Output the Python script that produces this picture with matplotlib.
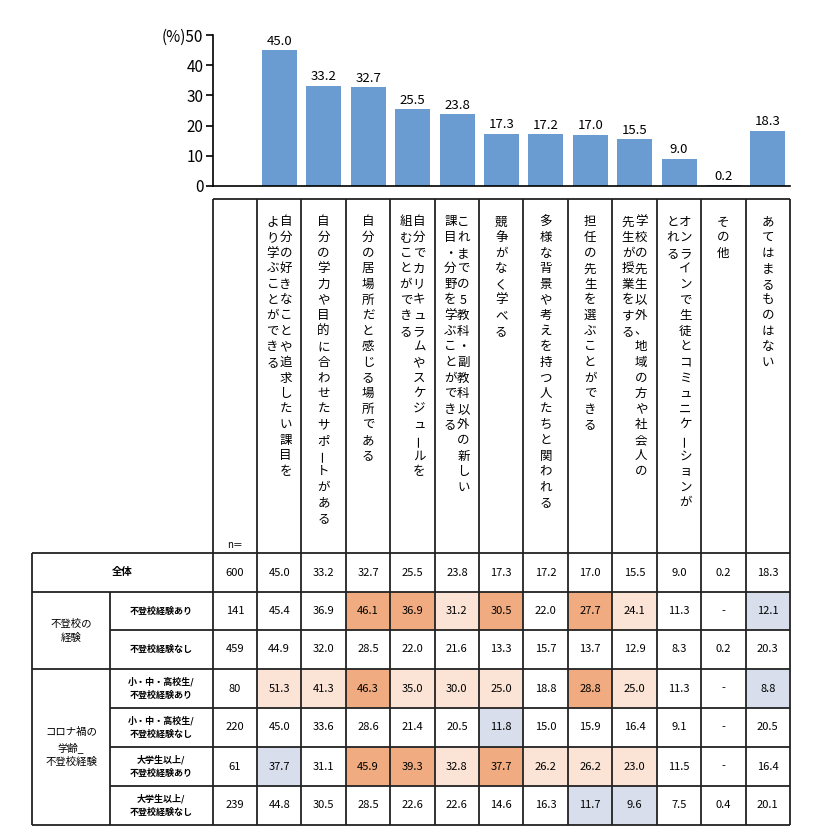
import matplotlib
matplotlib.use("Agg")
import matplotlib.pyplot as plt
from matplotlib.patches import Rectangle

plt.rcParams['font.family'] = ['Noto Sans CJK JP', 'DejaVu Sans']

labels = [
    ["自分の好きなことや追求したい課目を", "より学ぶことができる"],
    ["自分の学力や目的に合わせたサポートがある"],
    ["自分の居場所だと感じる場所である"],
    ["自分でカリキュラムやスケジュールを", "組むことができる"],
    ["これまでの5教科・副教科以外の新しい", "課目・分野を学ぶことができる"],
    ["競争がなく学べる"],
    ["多様な背景や考えを持つ人たちと関われる"],
    ["担任の先生を選ぶことができる"],
    ["学校の先生以外、地域の方や社会人の", "先生が授業をする"],
    ["オンラインで生徒とコミュニケーションが", "とれる"],
    ["その他"],
    ["あてはまるものはない"],
]
totals = [45.0, 33.2, 32.7, 25.5, 23.8, 17.3, 17.2, 17.0, 15.5, 9.0, 0.2, 18.3]
n_total = 600

groups = [("不登校の\n経験", 2), ("コロナ禍の\n学齢_\n不登校経験", 4)]
sub_labels = ["不登校経験あり", "不登校経験なし",
              "小・中・高校生/\n不登校経験あり", "小・中・高校生/\n不登校経験なし",
              "大学生以上/\n不登校経験あり", "大学生以上/\n不登校経験なし"]
sub_n = [141, 459, 80, 220, 61, 239]
rows = [
    [45.4, 36.9, 46.1, 36.9, 31.2, 30.5, 22.0, 27.7, 24.1, 11.3, None, 12.1],
    [44.9, 32.0, 28.5, 22.0, 21.6, 13.3, 15.7, 13.7, 12.9, 8.3, 0.2, 20.3],
    [51.3, 41.3, 46.3, 35.0, 30.0, 25.0, 18.8, 28.8, 25.0, 11.3, None, 8.8],
    [45.0, 33.6, 28.6, 21.4, 20.5, 11.8, 15.0, 15.9, 16.4, 9.1, None, 20.5],
    [37.7, 31.1, 45.9, 39.3, 32.8, 37.7, 26.2, 26.2, 23.0, 11.5, None, 16.4],
    [44.8, 30.5, 28.5, 22.6, 22.6, 14.6, 16.3, 11.7, 9.6, 7.5, 0.4, 20.1],
]

W, H = 823, 840
fig = plt.figure(figsize=(W/100, H/100), dpi=100)

# ---- bar chart ----
x0, x1, y0, y1 = 213, 790, 186, 35
ax = fig.add_axes([x0/W, 1-y0/H, (x1-x0)/W, (y0-y1)/H])
xs = list(range(len(totals)))
ax.bar(xs, totals, width=0.79, color='#6a9bd1')
for x, v in zip(xs, totals):
    ax.text(x, v+0.8, f"{v:.1f}", ha='center', va='bottom', fontsize=9.5,
            fontfamily='DejaVu Sans Condensed' if False else 'Noto Sans CJK JP')
ax.set_xlim(-1.5, 11.5)
ax.set_ylim(0, 50)
ax.set_yticks([0, 10, 20, 30, 40, 50])
ax.set_yticklabels(['0', '10', '20', '30', '40', '(%)50'], fontsize=11)
ax.set_xticks([])
for s in ['top', 'right']:
    ax.spines[s].set_visible(False)
ax.spines['left'].set_linewidth(1.2)
ax.spines['bottom'].set_linewidth(1.2)
ax.tick_params(axis='y', length=5, width=1.2, pad=2)
ax.patch.set_alpha(0)

# ---- table ----
tx = fig.add_axes([0, 0, 1, 1])
tx.set_xlim(0, W); tx.set_ylim(H, 0); tx.axis('off')
tx.patch.set_alpha(0)

col_edges = [257 + i*(790-257)/12 for i in range(13)]
row_edges = [553, 592, 630, 669, 708, 747, 786, 825]
lw = 1.3

def line(xa, ya, xb, yb, w=lw):
    tx.plot([xa, xb], [ya, yb], color='#222222', lw=w, solid_capstyle='butt')

# header boxes
hy0 = 199
for i in range(12):
    line(col_edges[i], hy0, col_edges[i], row_edges[0])
line(col_edges[-1], hy0, col_edges[-1], row_edges[0])
line(213, hy0, 213, row_edges[0])
line(213, hy0, 790, hy0)
tx.text(235, 545, "n＝", ha='center', va='center', fontsize=7)

# vertical labels
step = 15.6
for i, lines in enumerate(labels):
    cx = (col_edges[i] + col_edges[i+1]) / 2
    nl = len(lines)
    for j, s in enumerate(lines):
        xpos = cx + (nl-1)*6.5 - j*13
        for k, ch in enumerate(s):
            rot = 90 if ch in 'ー' else 0
            tx.text(xpos, 222 + k*step, ch, ha='center', va='center',
                    fontsize=9, rotation=rot)

def shade(v, t):
    if v is None:
        return None
    d = v - t
    if d >= 10:
        return '#f0ac80'
    if d >= 5:
        return '#fbe3d6'
    if d <= -5:
        return '#d9deec'
    return None

# total row
ytop, ybot = row_edges[0], row_edges[1]
ym = (ytop+ybot)/2
tx.text(122, ym, "全体", ha='center', va='center', fontsize=7.5, fontweight='bold')
tx.text(235, ym, str(n_total), ha='center', va='center', fontsize=8)
for i, v in enumerate(totals):
    tx.text((col_edges[i]+col_edges[i+1])/2, ym, f"{v:.1f}", ha='center', va='center', fontsize=8)

for r, (vals, nn, lab) in enumerate(zip(rows, sub_n, sub_labels)):
    ya, yb = row_edges[r+1], row_edges[r+2]
    ym = (ya+yb)/2
    for i, v in enumerate(vals):
        c = shade(v, totals[i])
        if c:
            tx.add_patch(Rectangle((col_edges[i], ya), col_edges[i+1]-col_edges[i], yb-ya,
                                   color=c, lw=0))
        tx.text((col_edges[i]+col_edges[i+1])/2, ym, '-' if v is None else f"{v:.1f}",
                ha='center', va='center', fontsize=8)
    tx.text(235, ym, str(nn), ha='center', va='center', fontsize=8)
    tx.text(161, ym, lab, ha='center', va='center', fontsize=6.5, fontweight='bold',
            linespacing=1.6)

# group labels
gi = 1
for g, cnt in groups:
    ya, yb = row_edges[gi], row_edges[gi+cnt]
    tx.text(71, (ya+yb)/2, g, ha='center', va='center', fontsize=7.5, linespacing=1.5)
    line(32, yb, 790, yb)
    gi += cnt

# grid lines
line(32, row_edges[0], 790, row_edges[0])
line(32, row_edges[1], 790, row_edges[1])
for r in range(2, 7):
    if r != 3:
        line(110, row_edges[r], 790, row_edges[r])
line(32, row_edges[0], 32, row_edges[-1])
line(110, row_edges[1], 110, row_edges[-1])
for xe in [213] + col_edges:
    line(xe, row_edges[0], xe, row_edges[-1])

fig.savefig('out.png', dpi=100)
